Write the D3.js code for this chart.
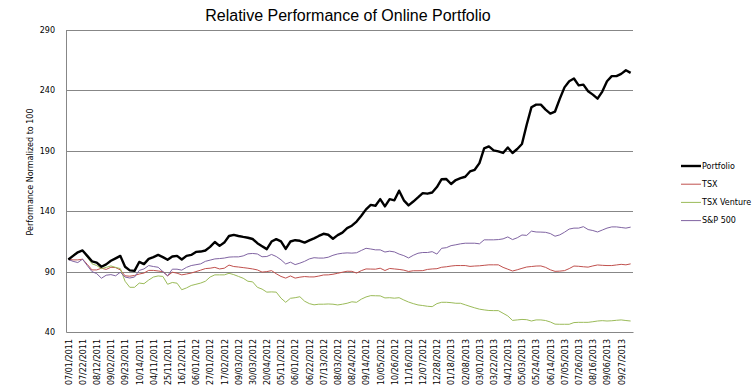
<!DOCTYPE html>
<html>
<head>
<meta charset="utf-8">
<script src="https://cdn.jsdelivr.net/npm/d3@7"></script>
<style>
  body { margin: 0; background: #fff; }
  svg text { font-family: "DejaVu Sans", sans-serif; }
</style>
</head>
<body>
<div id="chart"></div>
<script>
// weekly values, 07/01/2011 onwards, normalized to 100
const portfolio = [
  100, 103, 106, 107.5, 103, 98.5, 97.5, 94, 96, 99,
  101, 103, 94, 91, 90.6, 98, 96.2, 100.5, 102, 103.8,
  102, 99.8, 102.5, 103, 100, 103, 103.8, 106.3, 106.6, 107.5,
  110.5, 114.5, 111.3, 114, 119.5, 120.4, 119.5, 118.7, 118, 117,
  113.5, 111, 108.6, 114.9, 116.9, 115, 108.8, 114.9, 116, 115.5,
  114, 115.8, 117.5, 119.5, 121.3, 120.5, 117.2, 120.2, 122.3, 126,
  128, 131.4, 136.2, 141.5, 145.2, 144.5, 150, 144, 150, 149,
  157, 149, 144.8, 148, 151.4, 155, 154.5, 155.5, 160, 166.5,
  166.6, 162.5, 165.8, 167.3, 168.5, 172.9, 174.3, 179.8, 192, 193.6,
  190.3, 189.5, 188.2, 192.8, 188.2, 191.5, 195.6, 211.6, 226, 228.2,
  228.2, 224.1, 220.8, 222.5, 233, 242.5, 247.6, 249.8, 244.2, 244.8,
  239.3, 236.5, 233.2, 239, 247.6, 251.8, 251.8, 253.7, 256.7, 254.5
];
const tsx = [
  100, 99.7, 99.7, 100.3, 96, 91.4, 91.4, 92.8, 91.8, 93.6,
  93.3, 91.4, 86.5, 86.2, 86.8, 88, 88.8, 91, 91, 90.5,
  90, 86.5, 89.5, 88.7, 87.3, 88, 88.8, 90, 91.2, 92.5,
  92.8, 93.5, 92.2, 92.8, 95.4, 94.2, 93.8, 93.3, 92.8, 92.2,
  91.4, 89.6, 90, 90.8, 88.2, 86, 84.6, 86.4, 84.6, 85.4,
  85.9, 85.6, 85.6, 86.3, 87.2, 87.3, 87.8, 88.6, 89.5, 90.3,
  90.2, 88.8, 90.8, 92.2, 92.1, 92, 92.8, 90.9, 92.6, 92.2,
  91.8, 91.2, 90.1, 90.7, 90.7, 90.8, 91.8, 92.2, 92.4, 93.6,
  94, 94.6, 95, 95, 95, 94.3, 94.6, 94.8, 95.2, 95.6,
  95.6, 95.6, 93.5, 92, 90.5, 91.5, 92.7, 93.8, 94.2, 94.6,
  94.7, 93.5, 91.5, 90.2, 90.4, 90.8, 92.5, 94.6, 94.4, 94,
  93.7, 94.7, 95.5, 95.2, 95, 95, 95.5, 96, 95.6, 96.4
];
const tsxVenture = [
  100, 104, 106, 107.5, 102, 96.5, 95, 92.5, 93.5, 94.7,
  93.5, 92.5, 82, 77, 77, 80.5, 80, 83, 85.5, 86.4,
  86, 79.5, 81, 80.4, 75, 76.5, 78.5, 79.5, 80.5, 82,
  85.5, 87.3, 87.3, 87.3, 88.6, 87.5, 86, 84.5, 82, 81.5,
  77, 75.5, 73, 73.2, 73, 68, 64.6, 67.9, 68.4, 69.2,
  65.5, 63.5, 62.5, 63, 63, 63.2, 63, 62.4, 63, 63.8,
  65, 64.6, 67.2, 69, 70.1, 70, 69.9, 68.2, 68.4, 68,
  68.4, 66.5, 64.8, 63.5, 62.4, 61.9, 61.3, 61, 63.5, 64.6,
  64.6, 64.3, 63.8, 63.8, 62.5, 61.2, 60, 58.9, 58.3, 57.8,
  57.7, 57.7, 55.5, 53.3, 49.6, 50, 50.4, 50.2, 49.1, 50,
  50, 49.5, 48.3, 46.5, 46.4, 46.4, 46.4, 47.8, 48, 48,
  48, 48.5, 49.1, 49.4, 49.1, 49.3, 49.7, 50, 49.5, 49.1
];
const sp500 = [
  100, 98.5, 97.5, 100.3, 95, 90, 88.3, 84.5, 87, 87.5,
  86.5, 89.5, 85.5, 84.7, 85.5, 91, 92.2, 95, 94.2, 93.6,
  90, 86.5, 92, 92, 91.2, 93.5, 95, 95.7, 96.4, 98.5,
  99.5, 100.5, 100.8, 101.2, 102, 102.2, 102.2, 103, 104.7, 105,
  104.6, 102.3, 102.5, 104.2, 102.5, 99.8, 96.3, 97.8, 95.8, 97,
  98.5, 100.5, 101.5, 101.2, 101.2, 101.9, 103.5, 104.6, 105.2, 105.5,
  105.3, 105.6, 107.5, 109.3, 108.7, 108, 108, 106.2, 106.9, 106.3,
  104.5, 103.2, 101.3, 103.5, 105.2, 105.8, 105.8, 106.5, 104.5, 109.3,
  109.8, 111.5, 112.2, 113, 113.5, 113.5, 113.5, 113, 116.3, 116.3,
  116.3, 116.5, 117.1, 118.7, 116.5, 118, 120.3, 120, 123.5, 122.8,
  122.7, 122.5, 121.5, 119.3, 120.4, 122.6, 125.2, 126, 126, 127.2,
  124.8, 124, 122.8, 124.4, 126, 127, 127, 126.5, 126, 126.8
];
// one label every third week, as printed on the axis
const tickLabels = [
  "07/01/2011", "07/22/2011", "08/12/2011", "09/02/2011", "09/23/2011",
  "10/14/2011", "04/11/2011", "25/11/2011", "16/12/2011", "06/01/2012",
  "27/01/2012", "17/02/2012", "09/03/2012", "30/03/2012", "20/04/2012",
  "05/11/2012", "06/01/2012", "06/22/2012", "07/13/2012", "08/03/2012",
  "08/24/2012", "09/14/2012", "10/05/2012", "10/26/2012", "11/16/2012",
  "12/07/2012", "12/28/2012", "01/18/2013", "02/08/2013", "03/01/2013",
  "03/22/2013", "04/12/2013", "05/03/2013", "05/24/2013", "06/14/2013",
  "07/05/2013", "07/26/2013", "08/16/2013", "09/06/2013", "09/27/2013"
];
const seriesNames = ["Portfolio", "TSX", "TSX Venture", "S&P 500"];
const yTicks = [40, 90, 140, 190, 240, 290];

const W = 755, H = 390;
const margin = {top: 30, right: 122, bottom: 58, left: 66};
const width = W - margin.left - margin.right,
    height = H - margin.top - margin.bottom;

const series = [
  {name: seriesNames[0], values: portfolio, color: "#000000", w: 2.4},
  {name: seriesNames[1], values: tsx, color: "#c0504d", w: 1},
  {name: seriesNames[2], values: tsxVenture, color: "#9bbb59", w: 1},
  {name: seriesNames[3], values: sp500, color: "#8064a2", w: 1}
];

const svg = d3.select("#chart").append("svg")
    .attr("width", W)
    .attr("height", H);

svg.append("text")
    .attr("x", 348)
    .attr("y", 21)
    .attr("text-anchor", "middle")
    .style("font-family", "'Liberation Sans', Arial, sans-serif")
    .style("font-size", "16px")
    .text("Relative Performance of Online Portfolio");

const g = svg.append("g")
    .attr("transform", `translate(${margin.left},${margin.top})`);

const x = d3.scalePoint()
    .domain(d3.range(portfolio.length))
    .range([0, width])
    .padding(0.5);

const y = d3.scaleLinear()
    .domain([40, 290])
    .range([height, 0]);

// gridlines
g.append("g")
    .selectAll("line")
    .data(yTicks.slice(1))
    .join("line")
    .attr("x1", 0)
    .attr("x2", width)
    .attr("y1", d => Math.round(y(d)) + 0.5)
    .attr("y2", d => Math.round(y(d)) + 0.5)
    .attr("stroke", "#878787");

const yAxis = g.append("g")
    .call(d3.axisLeft(y).tickValues(yTicks).tickSize(0).tickPadding(11));
yAxis.select(".domain").attr("stroke", "#878787");
yAxis.selectAll("text").style("font-size", "8px").attr("fill", "#000");

const xAxis = g.append("g")
    .attr("transform", `translate(0,${height})`)
    .call(d3.axisBottom(x)
        .tickValues(d3.range(0, portfolio.length, 3))
        .tickFormat(d => tickLabels[d / 3])
        .tickSize(0));
xAxis.select(".domain").attr("stroke", "#878787");
xAxis.selectAll("text")
    .attr("transform", "rotate(-90)")
    .attr("x", -7)
    .attr("y", 0)
    .attr("dy", "0.35em")
    .style("text-anchor", "end")
    .style("font-size", "8px")
    .attr("fill", "#000");

svg.append("text")
    .attr("transform", "translate(33,172) rotate(-90)")
    .attr("text-anchor", "middle")
    .style("font-size", "8px")
    .text("Performance Normalized to 100");

const line = d3.line()
    .x((d, i) => x(i))
    .y(d => y(d));

// draw the index lines first, portfolio on top
g.selectAll(".series")
    .data(series.slice(1).concat(series.slice(0, 1)))
    .join("path")
    .attr("class", "series")
    .attr("fill", "none")
    .attr("stroke", d => d.color)
    .attr("stroke-width", d => d.w)
    .attr("stroke-linejoin", "round")
    .attr("d", d => line(d.values));

const legend = svg.append("g")
    .attr("transform", "translate(681,166)");
const item = legend.selectAll("g")
    .data(series)
    .join("g")
    .attr("transform", (d, i) => `translate(0,${i * 18.2})`);
item.append("line")
    .attr("x1", 0)
    .attr("x2", 20)
    .attr("stroke", d => d.color)
    .attr("stroke-width", d => d.w);
item.append("text")
    .attr("x", 21)
    .attr("dy", "0.35em")
    .style("font-size", "8px")
    .text(d => d.name);
</script>
</body>
</html>
